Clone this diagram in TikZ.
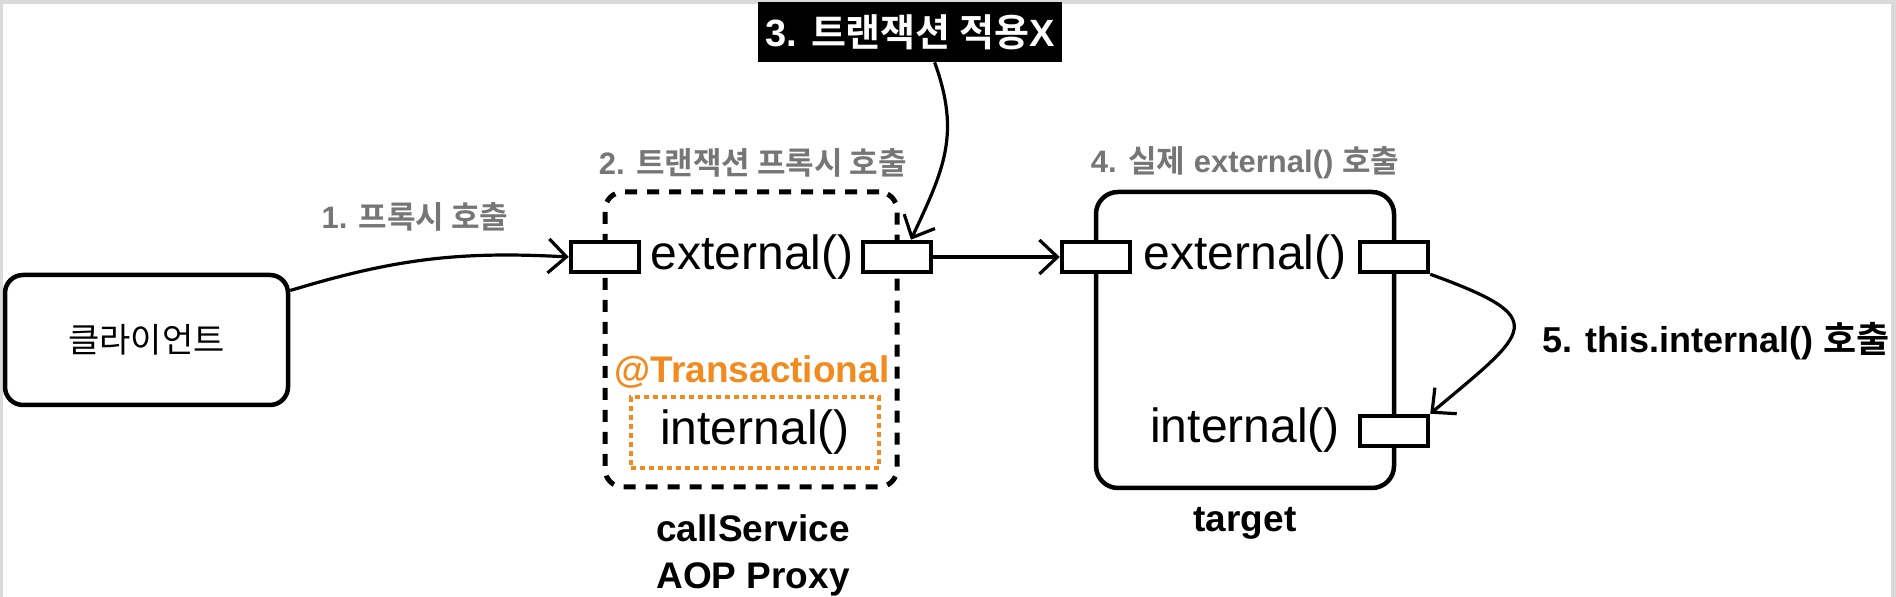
\documentclass[tikz,border=0pt]{standalone}
\usepackage{fontspec}
\setmainfont{Liberation Sans}
\newfontfamily\kr{Noto Sans CJK KR}[BoldFont={Noto Sans CJK KR Bold}]
\usetikzlibrary{arrows.meta}
\definecolor{labelgray}{HTML}{767676}
\definecolor{txorange}{HTML}{F28A1E}
\definecolor{framegray}{HTML}{DADADA}
\newcommand{\ko}[1]{{\kr #1}}
\tikzset{
  objbox/.style={draw, line width=2.25pt, rounded corners=9pt, inner sep=0pt},
  portbox/.style={draw, fill=white, line width=2.25pt, minimum width=34pt, minimum height=15pt, inner sep=0pt},
  callarrow/.style={line width=1.6pt, -{Straight Barb[length=9pt,width=17pt,line width=1.6pt]}},
  steplabel/.style={text=labelgray, font=\bfseries\fontsize{15.5}{18}\selectfont},
  methodtext/.style={font=\fontsize{24}{27}\selectfont},
  objname/.style={font=\bfseries\fontsize{18.5}{23.5}\selectfont, align=center}
}

\begin{document}
\begin{tikzpicture}[x=0.5pt, y=-0.5pt]
\fill[framegray] (0,0) rectangle (1896,597);
\fill[white] (3,4) rectangle (1891,597);
\useasboundingbox (0,0) rectangle (1896,597);

\node[objbox, minimum width=141.5pt, minimum height=65pt, font=\fontsize{17}{20}\selectfont] (client) at (146.5,340) {\ko{클라이언트}};
\node[objbox, dashed, dash pattern=on 6pt off 5pt, line width=2.5pt, minimum width=146pt, minimum height=147.5pt] (proxy) at (751,339.5) {};
\node[objbox, rounded corners=11pt, minimum width=149pt, minimum height=148pt] (target) at (1245,340) {};

\node[draw=txorange, line width=2pt, dash pattern=on 2.5pt off 2pt, minimum width=124pt, minimum height=35.5pt, methodtext] (pint) at (755,432.5) {internal()};
\node[text=txorange, font=\bfseries\fontsize{18.5}{20}\selectfont] (tx) at (752,372) {@Transactional};

\node[portbox] (pl) at (605,257) {};
\node[portbox] (pr) at (897,257) {};
\node[portbox] (tl) at (1096,257) {};
\node[portbox] (tr) at (1394,257) {};
\node[portbox] (ti) at (1394,431) {};

\node[methodtext] (pext) at (752,257) {external()};
\node[methodtext] (text) at (1245,257) {external()};
\node[methodtext] (tint) at (1245,430) {internal()};

\node[steplabel] (s1) at (415,217) {1. \ko{프록시 호출}};
\node[steplabel] (s2) at (753,163) {2. \ko{트랜잭션 프록시 호출}};
\node[fill=black, text=white, font=\bfseries\fontsize{19}{21}\selectfont, minimum width=152pt, minimum height=30pt, inner sep=0pt] (s3) at (910,32) {3. \ko{트랜잭션 적용}X};
\node[steplabel] (s4) at (1245,163) {4. \ko{실제} external() \ko{호출}};
\node[anchor=west, font=\bfseries\fontsize{18}{20}\selectfont] (s5) at (1535,341) {5. this.internal() \ko{호출}};

\node[objname] (pname) at (753,555) {callService\\AOP Proxy};
\node[objname] (tname) at (1245,523) {target};

\draw[callarrow] (client.19) to[bend left=10] (pl.west);
\draw[callarrow] (s3.-51) to[out=-70, in=65, looseness=1.1] (pr.51);
\draw[callarrow] (pr.east) -- (tl.west);
\draw[callarrow] (tr.south east) to[out=-20, in=40, looseness=2.4] (ti.north east);
\end{tikzpicture}
\end{document}
